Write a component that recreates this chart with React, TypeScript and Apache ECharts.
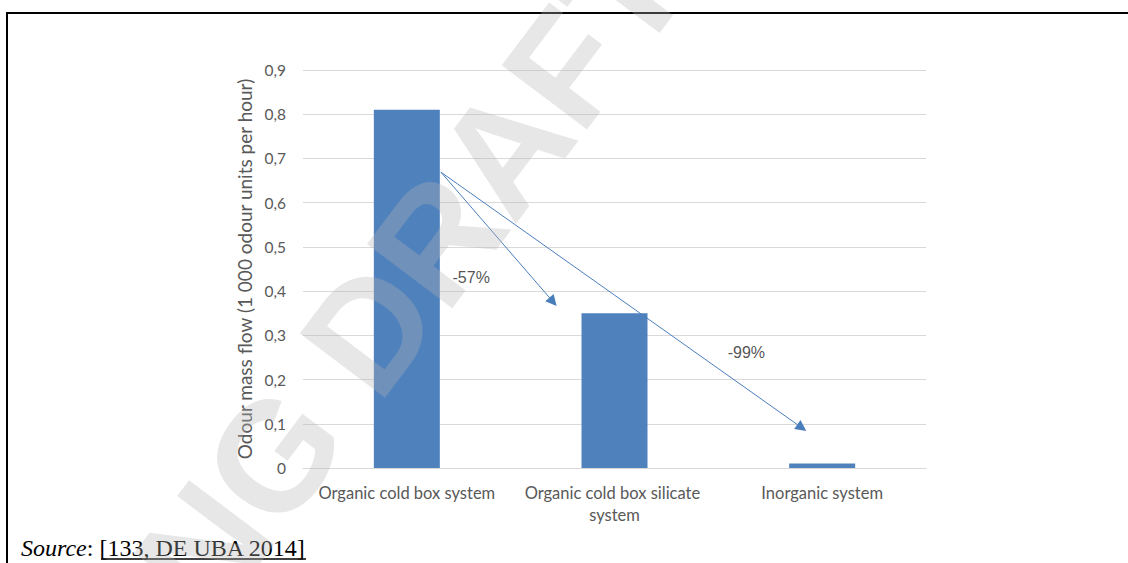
import React, { useEffect, useRef } from "react";
import * as echarts from "echarts";

const categories = [
  "Organic cold box system",
  "Organic cold box silicate system",
  "Inorganic system",
];
const values = [0.81, 0.35, 0.01];
const yAxisTitle = "Odour mass flow (1 000 odour units per hour)";
const yMin = 0;
const yMax = 0.9;
const yStep = 0.1;

// annotation arrows (x on a 0..3 category-span scale, y in data units)
const arrowStart = [0.664, 0.669];
const arrowEnds = [
  [1.204, 0.376],
  [2.402, 0.091],
];
const changeLabels = ["-57%", "-99%"];
const changeLabelPos = [
  [0.81, 0.43],
  [2.135, 0.262],
];

const sourceLabel = "Source";
const sourceRef = "[133, DE UBA 2014]";
const watermark = ["WORKING ", "DRAFT", " IN PROGRESS"];

export default function App() {
  const ref = useRef<HTMLDivElement>(null);
  useEffect(() => {
    if (!ref.current) return;
    const chart = echarts.init(ref.current, null, { renderer: "svg" });
    const axisFont = "Lato, 'Open Sans', sans-serif";
    const rot = (53 * Math.PI) / 180;
    const wmStyle = {
      fill: "rgba(180,180,180,0.32)",
      fontSize: 155,
      fontWeight: "bold",
      fontFamily: "'Liberation Sans', Arial, sans-serif",
      verticalAlign: "middle",
    };
    const dW = 262; // half width of watermark centre word
    chart.setOption({
      animation: false,
      backgroundColor: "#ffffff",
      grid: { left: 303, right: 202, top: 70, bottom: 95, containLabel: false },
      xAxis: [
        {
          type: "category",
          data: categories,
          axisLine: { show: true, lineStyle: { color: "#d9d9d9", width: 1 } },
          axisTick: { show: false },
          axisLabel: {
            color: "#595959",
            fontSize: 16.5,
            fontFamily: axisFont,
            margin: 14,
            lineHeight: 22,
            width: 200,
            overflow: "break",
            interval: 0,
          },
        },
        { type: "value", min: 0, max: 3, show: false },
      ],
      yAxis: {
        type: "value",
        min: yMin,
        max: yMax,
        interval: yStep,
        name: yAxisTitle,
        nameLocation: "middle",
        nameGap: 48,
        nameTextStyle: { color: "#595959", fontSize: 19, fontFamily: axisFont },
        axisLine: { show: false },
        axisTick: { show: false },
        splitLine: { lineStyle: { color: "#d9d9d9", width: 1 } },
        axisLabel: {
          color: "#595959",
          fontSize: 15.5,
          fontFamily: axisFont,
          margin: 17,
          formatter: (v: number) =>
            v === 0 ? "0" : v.toFixed(1).replace(".", ","),
        },
      },
      series: [
        {
          type: "bar",
          data: values,
          barWidth: 66,
          itemStyle: { color: "#4f81bd" },
          z: 2,
        },
        {
          type: "lines",
          coordinateSystem: "cartesian2d",
          xAxisIndex: 1,
          yAxisIndex: 0,
          symbol: ["none", "triangle"],
          symbolSize: [8, 11],
          lineStyle: { color: "#4a7ebb", width: 1, opacity: 1 },
          data: arrowEnds.map((e) => ({ coords: [arrowStart, e] })),
          z: 3,
        },
        {
          type: "scatter",
          xAxisIndex: 1,
          yAxisIndex: 0,
          symbolSize: 0,
          data: changeLabelPos.map((p, i) => [p[0], p[1], changeLabels[i]]),
          label: {
            show: true,
            position: "inside",
            formatter: (p: any) => p.value[2],
            color: "#262626",
            fontSize: 16,
            fontFamily: "'Liberation Sans', Arial, sans-serif",
          },
          z: 4,
        },
      ],
      graphic: [
        {
          type: "line",
          shape: { x1: 6, y1: 13, x2: 1128, y2: 13 },
          style: { stroke: "#000", lineWidth: 2 },
          z: 50,
        },
        {
          type: "line",
          shape: { x1: 7, y1: 12, x2: 7, y2: 563 },
          style: { stroke: "#000", lineWidth: 2 },
          z: 50,
        },
        {
          type: "text",
          x: 21,
          y: 536,
          style: {
            text: `{i|${sourceLabel}}{n|: }{n|${sourceRef}}`,
            rich: {
              i: {
                fontFamily: "'Liberation Serif', 'Times New Roman', serif",
                fontStyle: "italic",
                fontSize: 24,
                fill: "#000",
              },
              n: {
                fontFamily: "'Liberation Serif', 'Times New Roman', serif",
                fontSize: 24,
                fill: "#000",
              },
            },
          },
          z: 50,
        },
        {
          type: "line",
          shape: { x1: 101, y1: 559, x2: 306, y2: 559 },
          style: { stroke: "#000", lineWidth: 1.3 },
          z: 50,
        },
        {
          type: "group",
          x: 494,
          y: 164,
          rotation: rot,
          z: 100,
          silent: true,
          children: [
            {
              type: "text",
              x: 0,
              y: 0,
              z: 100,
              style: { ...wmStyle, text: watermark[1], align: "center" },
            },
            {
              type: "text",
              x: -dW,
              y: 0,
              z: 100,
              style: { ...wmStyle, text: watermark[0], align: "right" },
            },
            {
              type: "text",
              x: dW,
              y: 0,
              z: 100,
              style: { ...wmStyle, text: watermark[2], align: "left" },
            },
          ],
        },
      ],
    });
    return () => chart.dispose();
  }, []);
  return (
    <div
      ref={ref}
      style={{ position: "fixed", left: 0, top: 0, width: 1128, height: 563 }}
    />
  );
}
